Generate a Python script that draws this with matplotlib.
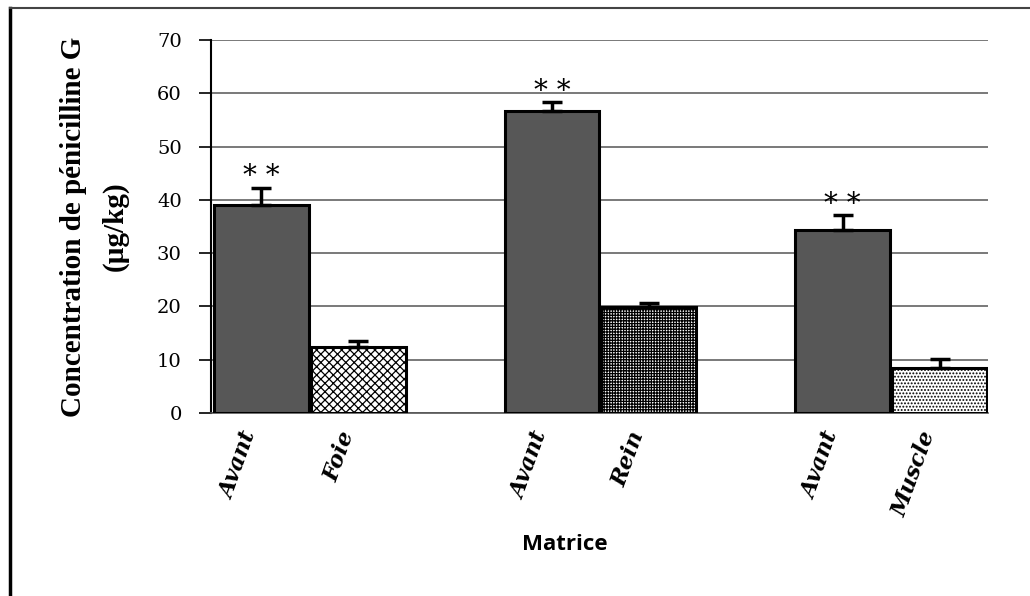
import matplotlib
matplotlib.use("Agg")
import matplotlib.pyplot as plt
import matplotlib.transforms as mtransforms
from matplotlib.lines import Line2D

# data
labels = ["Avant", "Foie", "Avant", "Rein", "Avant", "Muscle"]
positions = [0, 1, 3, 4, 6, 7]
values = [39.0, 12.4, 56.6, 19.8, 34.4, 8.5]
errors = [3.3, 1.1, 1.8, 0.9, 2.7, 1.7]
hatches = [None, "xxxx", None, "++++++", None, "....."]
signif = ["* *", "", "* *", "", "* *", ""]

plt.rcParams["hatch.linewidth"] = 0.9

fig = plt.figure(figsize=(10.30, 5.96), dpi=100)
ax = fig.add_axes([211 / 1030, 1 - 413 / 596, (988 - 211) / 1030, (413 - 40) / 596])

for x, v, h in zip(positions, values, hatches):
    if h is None:
        ax.bar(x, v, width=0.98, color="#575757", edgecolor="black", linewidth=2.2, zorder=3)
    else:
        ax.bar(x, v, width=0.98, color="white", edgecolor="black", hatch=h, linewidth=2.2, zorder=3)

ax.errorbar(positions, values, yerr=[[0] * len(errors), errors], fmt="none",
            ecolor="black", elinewidth=2.5, capsize=7, capthick=2.5, zorder=4)

for x, v, e, s in zip(positions, values, errors, signif):
    if s:
        ax.annotate(s, (x, v + e), xytext=(0, -2), textcoords="offset points",
                    ha="center", va="bottom", fontsize=20, family="DejaVu Serif")

ax.set_xlim(-0.52, 7.5)
ax.set_ylim(0, 70)
ax.set_yticks(range(0, 71, 10))
ax.yaxis.grid(True, color="#555555", linewidth=1.1, zorder=0)
ax.set_axisbelow(True)

for side in ["top", "right"]:
    ax.spines[side].set_visible(False)
ax.spines["left"].set_color("black")
ax.spines["left"].set_linewidth(1.5)
ax.spines["bottom"].set_color("#555555")
ax.spines["bottom"].set_linewidth(1.2)

ax.tick_params(axis="y", direction="out", length=9, width=1.2, pad=12, labelsize=14)
for t in ax.get_yticklabels():
    t.set_family("DejaVu Serif")

ax.set_xticks(positions)
ax.set_xticklabels(labels, rotation=70, ha="right", va="center", rotation_mode="anchor",
                   fontsize=16, fontweight="bold", fontstyle="italic", family="DejaVu Serif")
ax.tick_params(axis="x", length=0, pad=14)
shift = mtransforms.ScaledTranslation(-10 / 100, 0, fig.dpi_scale_trans)
for t in ax.get_xticklabels():
    t.set_transform(t.get_transform() + shift)

ax.set_ylabel("Concentration de pénicilline G\n(µg/kg)", fontsize=21, fontweight="bold",
              family="Liberation Serif", linespacing=1.7, labelpad=20)
fig.text(565 / 1030, 1 - 545 / 596, "Matrice", ha="center", va="center",
         fontsize=16, fontweight="bold", family="Open Sans")

# outer frame (only left and top edges are visible in the reference)
fig.add_artist(Line2D([10 / 1030, 10 / 1030], [0, 1 - 8 / 596], color="black", linewidth=2.5))
fig.add_artist(Line2D([10 / 1030, 1], [1 - 8 / 596, 1 - 8 / 596], color="#444444", linewidth=1.5))

fig.savefig("out.png", dpi=100)
